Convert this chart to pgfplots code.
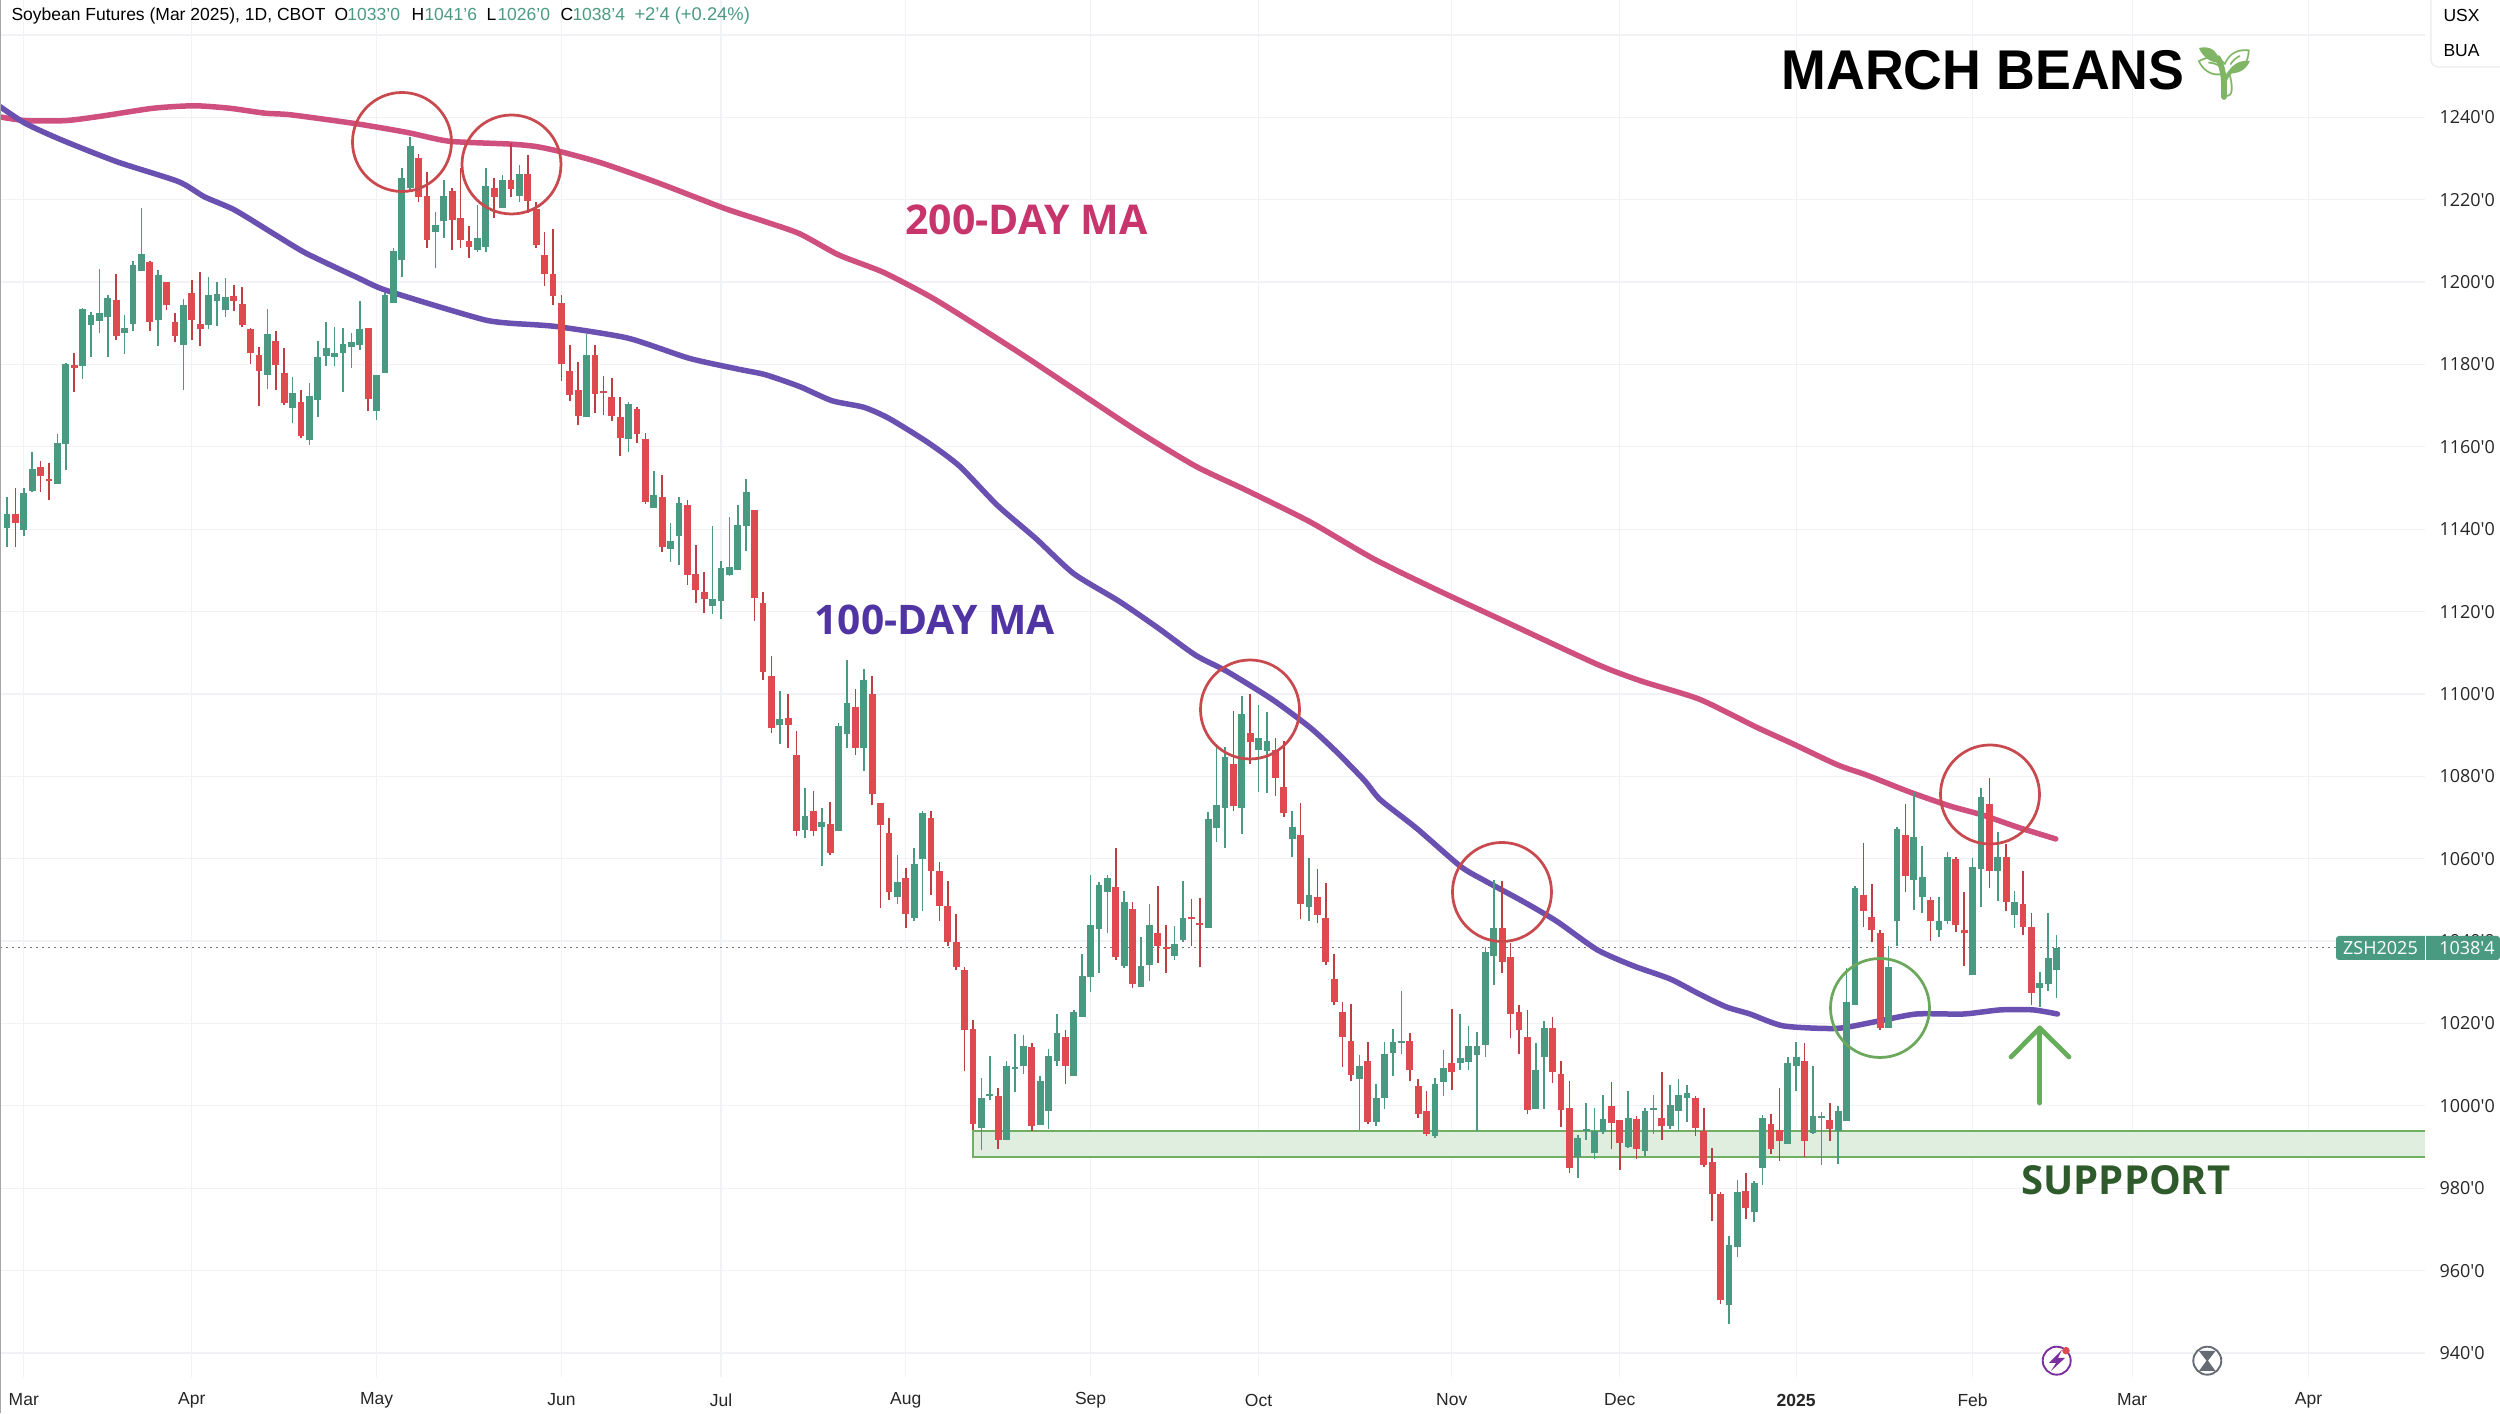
\documentclass[border=0pt]{standalone}
\usepackage{pgfplots}
\usepackage{pgfplotstable}
\usepackage{fontspec}
\pgfplotsset{compat=1.18}
\setmainfont{Liberation Sans}
\newfontfamily\mafont{Open Sans}
\newfontfamily\emojifont{Noto Emoji}
\definecolor{cgreen}{HTML}{4A9A82}
\definecolor{cred}{HTML}{DE4A50}
\definecolor{ma200}{HTML}{CF4F7E}
\definecolor{ma100}{HTML}{6A50B0}
\definecolor{t200}{HTML}{C8356C}
\definecolor{t100}{HTML}{5034A4}
\definecolor{gridc}{HTML}{F1F2F5}
\definecolor{circr}{HTML}{C84A4E}
\definecolor{circg}{HTML}{6BA85C}
\definecolor{arrowg}{HTML}{66AD5B}
\definecolor{suppfill}{HTML}{E0EEDF}
\definecolor{suppline}{HTML}{6FAE63}
\definecolor{supptxt}{HTML}{2F5A2B}
\definecolor{sprout}{HTML}{7FB565}
\definecolor{iconp}{HTML}{7B2F9E}
\definecolor{icong}{HTML}{666A75}
\pgfplotstableread{
x o h l c
0 1140.4 1147.9 1135.6 1143.7
1 1143.7 1150 1135.6 1141.6
2 1139.9 1150 1138.3 1148.7
3 1149.2 1158.8 1149 1154.5
4 1155 1156.5 1149 1152.9
5 1152.1 1156 1147 1151.6
6 1151 1163 1151 1160.9
7 1160.6 1180.4 1154.4 1180.1
8 1179.9 1182.7 1173.2 1179.1
9 1179.5 1193.8 1176.5 1193.4
10 1189.6 1192.8 1181.9 1192
11 1190.6 1203.1 1187.6 1192.6
12 1191.4 1196.9 1181.7 1196.2
13 1195.7 1201.9 1186 1187
14 1187.6 1192 1182.6 1188.8
15 1189.8 1205 1188 1204.2
16 1202.8 1217.9 1202.8 1206.8
17 1204.9 1205 1188 1190.4
18 1190.8 1203 1184.5 1201.6
19 1200 1200 1193.2 1194.4
20 1190.3 1192.4 1185.5 1187
21 1184.7 1196 1173.7 1194.4
22 1197.3 1200.5 1186 1190.8
23 1189.8 1202.5 1184.5 1188.5
24 1189.6 1201.3 1188.5 1196.9
25 1195.3 1200.1 1189.4 1197.1
26 1193.2 1200.9 1191.6 1196.3
27 1196.6 1199.3 1193 1195.4
28 1194.7 1198.9 1189 1189.6
29 1188.6 1188.8 1180.1 1182.7
30 1182.2 1184.3 1169.8 1178.3
31 1177.5 1193.4 1174 1187.4
32 1185.8 1188.2 1173.8 1179.9
33 1177.9 1183.9 1170.2 1170.6
34 1169.4 1177 1165.7 1173
35 1171 1173.8 1162.1 1162.7
36 1161.7 1175.6 1160.5 1172.4
37 1171.4 1185.6 1167.3 1181.7
38 1182 1190.4 1179.5 1183.9
39 1181.7 1189.2 1179.5 1182.7
40 1182.7 1188.8 1173.4 1184.9
41 1184.2 1187.6 1179.1 1185.5
42 1184.7 1195.3 1183.5 1188.6
43 1188.9 1188.9 1168.6 1171.6
44 1168.8 1177.5 1166.5 1177.5
45 1177.9 1197.3 1177.9 1196.9
46 1194.9 1208.2 1194.9 1207.6
47 1205.4 1227.6 1201.3 1225.2
48 1222.8 1235.1 1222.4 1233.1
49 1230 1231.1 1219.5 1220.7
50 1220.9 1226.6 1208.2 1210.2
51 1212.2 1217.1 1203.3 1213.9
52 1214.9 1224.8 1210.6 1220.9
53 1222 1222.8 1207.8 1215.1
54 1215.6 1227.6 1208.2 1210.2
55 1210 1213.5 1205.8 1208.6
56 1207.8 1218.7 1207.4 1210.6
57 1208.6 1227.6 1207.2 1223.2
58 1222.9 1225.2 1215.5 1220.7
59 1217.9 1226 1217.9 1224.8
60 1224.8 1233.7 1220.7 1222.5
61 1220.9 1228.4 1219.4 1226.2
62 1226.2 1230.9 1216.7 1219.8
63 1217.7 1219.5 1208.2 1209
64 1206.5 1212.2 1199.1 1202
65 1202 1212.8 1194.4 1196.7
66 1194.8 1196.9 1176 1180.2
67 1178.4 1184.6 1171.1 1172.5
68 1173.9 1180.7 1165.2 1167.4
69 1167.2 1187.3 1167.2 1182.2
70 1182.2 1184.6 1168.3 1172.9
71 1173.4 1177.1 1167.8 1173.1
72 1172 1176.7 1166.2 1167.4
73 1167.2 1172 1157.8 1162.2
74 1161.8 1170.8 1158.7 1170.3
75 1169.2 1169.7 1161 1163
76 1162 1163.4 1146 1146.7
77 1145.2 1154.2 1145.2 1148.3
78 1147.7 1153.2 1134.4 1135.6
79 1135.3 1141.6 1132 1137.2
80 1138.3 1147.8 1131.4 1146.4
81 1145.8 1147.2 1126.5 1129
82 1129.2 1136.2 1122.1 1125.3
83 1124.8 1129.5 1119.7 1123
84 1121.4 1140.7 1119.5 1123
85 1122.5 1132.2 1118.1 1130.7
86 1128.8 1142.9 1128.6 1130.8
87 1130.1 1145.8 1130.1 1140.9
88 1140.7 1152.3 1134.6 1149
89 1144.6 1144.6 1117.8 1123.2
90 1122 1124.8 1103.5 1105.4
91 1104.3 1109.3 1090.5 1091.8
92 1092.4 1100.6 1087.9 1093.9
93 1094.1 1100 1087 1092.5
94 1085.1 1091.1 1065.4 1066.7
95 1067 1077.1 1065.1 1070.4
96 1071.6 1076.5 1065.4 1066.7
97 1067.8 1072.4 1058.2 1068.9
98 1068.4 1073.8 1061 1061.4
99 1066.7 1093 1066.7 1092.1
100 1090.4 1108.2 1086.8 1097.9
101 1096.9 1101.3 1085.1 1087
102 1087 1106 1081.4 1103.4
103 1100 1104.3 1073 1075.8
104 1073.6 1073.6 1048 1068.2
105 1066.3 1070 1050 1051.8
106 1050.8 1060.9 1049 1054.4
107 1055.3 1057.8 1043.2 1046.7
108 1045.7 1062.6 1045 1058.7
109 1059.9 1071.7 1047.4 1071
110 1069.9 1071.7 1051.3 1057.1
111 1056.9 1059.2 1045 1048.5
112 1048.5 1054.6 1038.8 1039.7
113 1039.9 1046.7 1032.9 1033.6
114 1033.1 1033.8 1008.4 1018.5
115 1018.6 1020.9 994.1 995.7
116 994.6 1006.7 989.2 1001.9
117 1002.4 1012 1001.5 1002.7
118 1002.5 1004.4 989.5 991.8
119 991.8 1010.9 991.8 1009.7
120 1008.9 1017.4 1003.4 1009.3
121 1009.7 1017.2 1007.8 1014.6
122 1014.4 1015.2 993.9 995
123 995.3 1007.2 995.3 1006
124 998.8 1013.9 994.4 1012.1
125 1010.9 1022.3 1009.7 1017.7
126 1016.6 1018.3 1005.3 1009.7
127 1007.2 1023.2 1007.2 1022.8
128 1021.6 1036.9 1021.6 1031.6
129 1031.3 1056 1027.6 1043.8
130 1042.9 1054.3 1032.3 1053.6
131 1052 1056.1 1042 1055.4
132 1053.2 1062.5 1035.5 1036.2
133 1033.9 1052.2 1033.5 1049.4
134 1047.9 1049.4 1028.5 1029.6
135 1028.8 1040.9 1028.8 1033.9
136 1034.1 1049 1030.2 1043.9
137 1042 1053.4 1034.6 1038.8
138 1038.5 1044 1032.2 1038.1
139 1036.4 1043.7 1035.5 1039.2
140 1040.3 1054.6 1039.9 1045.7
141 1045.9 1050.1 1038.9 1045.3
142 1044 1050.4 1033.6 1043.8
143 1043.1 1071.3 1043.1 1069.6
144 1067.4 1087.5 1064.1 1073.1
145 1072.2 1087.1 1062.5 1084.6
146 1082.9 1095.9 1071.7 1072.7
147 1072.2 1099.6 1066 1095.2
148 1090.5 1100.1 1082.9 1088.3
149 1086.4 1097.3 1076.2 1089.2
150 1086.1 1095.6 1075.9 1088.7
151 1086.4 1089.2 1075.3 1079.6
152 1077.5 1088.7 1070.2 1071.1
153 1064.8 1071.6 1060.4 1067.6
154 1065.7 1073.6 1045.3 1049
155 1048.3 1060.1 1045 1051.3
156 1050.7 1057.5 1044.3 1046.4
157 1045.7 1054.1 1034.1 1034.9
158 1030.9 1036.9 1024.4 1025.1
159 1022.8 1025.1 1009.5 1016.6
160 1015.7 1024.8 1006 1007.6
161 1006.4 1012.3 994.1 1009.7
162 1010.9 1015.5 995.5 996
163 996.2 1005.3 995 1001.8
164 1001.8 1015.5 999.3 1012.5
165 1012.9 1018.6 1007.3 1015.5
166 1015.3 1027.9 1012.7 1015.5
167 1015.8 1017.7 1006 1008.8
168 1004.9 1006.6 997.1 998
169 998.8 1003.6 992.8 993.2
170 992.6 1006.8 992.2 1005.3
171 1005.8 1013.6 1002.3 1009.2
172 1010.3 1023.4 1003.9 1008.1
173 1010.3 1022.3 1008.8 1011.5
174 1010.7 1019.4 1008.8 1014.6
175 1012.4 1017.9 993.8 1014.6
176 1014.7 1038.6 1011.8 1037.3
177 1036.3 1054.8 1029.4 1043.3
178 1043.3 1054.5 1032.3 1035
179 1036.1 1039.6 1016.4 1022.3
180 1022.7 1024.4 1012.7 1018.4
181 1016.6 1023.3 998.1 999
182 999.3 1015.3 999.3 1008.6
183 1011.8 1020.5 999.3 1019
184 1019 1021.6 1005.5 1008.2
185 1007.7 1010.8 994.9 999
186 999.5 1006 983.8 985
187 987.7 992.9 982.5 992.1
188 994 1000.6 991.7 994.3
189 988.6 999.5 987 993.8
190 993.6 1002.7 993.2 996.8
191 1000 1005.8 989.5 995.8
192 996.5 996.5 984.5 990.9
193 989.9 1003.6 989.7 997.1
194 996.8 997.5 987 989.6
195 989.1 999.5 987.8 998.8
196 999 1002.7 993.2 999.4
197 997.1 1008.1 991.6 995.2
198 995.2 1005.1 994.3 1000.1
199 998.8 1006.5 993.8 1002.7
200 1001.8 1005.1 996.2 1003.2
201 1001.9 1002.3 992.8 994.7
202 993.8 999.5 985.1 985.7
203 986.3 989.7 972 978.6
204 978.6 979.2 952 952.9
205 951.7 968.3 947 966.3
206 965.7 981.9 963.3 979.1
207 979.3 983.8 972.6 975.2
208 974.3 981.7 971.8 981.2
209 985 997.8 980.8 997.1
210 995.6 998 988.4 989.5
211 994.1 1004.3 986.7 991.5
212 990.8 1011.8 990.8 1010.4
213 1009.7 1015.6 1003.6 1011.8
214 1010.8 1015.3 987.7 991.5
215 993.5 1009.7 993.2 997.5
216 997.1 998.4 985.6 997.3
217 996.5 1000.7 991.5 994.3
218 993.8 999.9 985.8 998.8
219 996.4 1033.4 996.4 1025.2
220 1024.5 1053.4 1024.5 1052.8
221 1051.1 1063.9 1043.4 1047.3
222 1045.8 1053.9 1039.9 1042.6
223 1041.9 1042.6 1018.5 1018.9
224 1018.9 1038.7 1018.9 1033.8
225 1044.8 1067.8 1038.9 1067.2
226 1065.8 1073.2 1051.8 1055.9
227 1054.9 1076.3 1047.6 1065.3
228 1050.8 1063 1046.9 1055.5
229 1050 1050.8 1040.1 1044.8
230 1042.6 1050.7 1041 1044.8
231 1044.8 1061.6 1044.2 1060.4
232 1059.9 1060.4 1042.1 1043.8
233 1042.6 1051.8 1034 1041.9
234 1031.8 1060.1 1031.8 1058.1
235 1057.5 1077.1 1048.2 1074.9
236 1073.3 1079.7 1053 1056.9
237 1057.1 1066.4 1049.8 1060.4
238 1060.4 1063.6 1047.4 1049.4
239 1046.4 1052.2 1043.1 1049.4
240 1049 1056.9 1041.5 1043.4
241 1043.4 1046.8 1024.5 1027.5
242 1028.5 1032.4 1024.1 1029.8
243 1029.6 1046.8 1028 1035.9
244 1032.9 1041.5 1026.1 1038.3
}\candles
\pgfplotstableread{
x v
-0.83 1240.1
2.2 1239.2
7 1239.2
11.3 1240.3
17.4 1242.2
22.3 1242.8
26.5 1242.2
30.7 1241
33.8 1240.6
41.7 1238.4
47.7 1236.3
52.6 1234.2
59.9 1233.5
63 1232.9
66 1231.6
70.8 1228.9
77.5 1224.1
85.4 1217.9
90.2 1214.7
94.4 1211.7
99 1206.6
104.3 1202.4
109.6 1196.8
113.4 1192.1
121 1182.2
128.6 1171.9
134.6 1163.8
141.5 1155.3
147.6 1149.4
155.1 1141.8
162.7 1132.8
170.3 1125.2
177.9 1118
189.3 1107.2
194.6 1103.1
201.5 1098.7
208.3 1091.9
212.6 1087.9
217.9 1082.8
221.4 1080.3
226.5 1076.2
231.3 1072.8
235.2 1070.6
239.3 1067.7
243.9 1064.8
}\mafast
\pgfplotstableread{
x v
-0.83 1242.6
2.2 1238.5
6.5 1234.5
13.1 1229.2
20.4 1224.4
23.5 1220.7
27.1 1217.5
32 1211.4
35.6 1207
41.7 1201.1
44.7 1198.3
50.8 1194.4
56.9 1190.8
59.9 1190
65.4 1189.2
73.9 1186.4
81.2 1181.5
87.2 1178.8
90.3 1177.5
94.4 1174.6
98.2 1171.2
102 1169.6
105 1166.9
109.6 1161.1
113.4 1155.3
117.9 1145.8
122.5 1137.7
127 1129.2
132.4 1122.5
136.9 1116.2
141.5 1109.4
145.3 1105.4
150.6 1098.7
155.1 1091.9
158.2 1086.1
161.6 1079
163.5 1074.3
167.8 1067.4
173 1058.2
175.8 1054.8
180.5 1049.6
184.5 1044.8
189.3 1037.9
193.6 1034
198 1030.8
201.6 1027
204.7 1024
207.5 1022.3
211.5 1019.4
217.8 1018.8
222.6 1020.5
227.3 1022.3
232.9 1022.3
237.3 1023.3
241.2 1023.3
244.1 1022.3
}\maslow
\begin{document}
\begin{tikzpicture}
\useasboundingbox (0,0) rectangle (1000pt,565.2pt);
\begin{axis}[
  at={(0pt,14.4pt)}, anchor=south west, scale only axis,
  width=970pt, height=550.8pt,
  xmin=-0.833, xmax=287.86, ymin=934.17, ymax=1268.48,
  axis line style={draw=none}, tick style={draw=none},
  major tick length=0pt,
  grid=major, grid style={gridc, line width=0.5pt},
  xtick={2,22,44,66,85,107,129,149,172,192,213,234,253,274},
  xticklabels={Mar,Apr,May,Jun,Jul,Aug,Sep,Oct,Nov,Dec,\textbf{2025},Feb,Mar,Apr},
  ytick={940,960,980,1000,1020,1040,1060,1080,1100,1120,1140,1160,1180,1200,1220,1240,1260},
  yticklabels={940'0,960'0,980'0,1000'0,1020'0,1040'0,1060'0,1080'0,1100'0,1120'0,1140'0,1160'0,1180'0,1200'0,1220'0,1240'0,{}},
  yticklabel pos=right,
  yticklabel style={font=\fontsize{7.2}{8}\selectfont\mafont, anchor=west, inner sep=0pt, xshift=5.6pt, text=black!85},
  xticklabel style={font=\fontsize{7}{8}\selectfont, anchor=center, inner sep=0pt, yshift=-9.2pt, text=black!85},
  clip=false,
  axis on top=false,
]
% support zone: filled, with lines on three sides, open towards the price scale
\addplot[draw=none, fill=suppfill, forget plot]
  coordinates {(115,987.6)(287.86,987.6)(287.86,993.9)(115,993.9)} -- cycle;
\addplot[draw=suppline, line width=0.55pt, forget plot]
  coordinates {(287.86,987.6)(115,987.6)(115,993.9)(287.86,993.9)};
% last price line
\addplot[draw=black!55, line width=0.4pt, dash pattern=on 0.8pt off 1.6pt, forget plot]
  coordinates {(-0.83,1038.5)(277.3,1038.5)};
% moving averages
\addplot[ma200, line width=2.2pt, line cap=round, line join=round, smooth, tension=0.4, forget plot] table[x=x,y=v]{\mafast};
\addplot[ma100, line width=2.2pt, line cap=round, line join=round, smooth, tension=0.4, forget plot] table[x=x,y=v]{\maslow};
% wicks green
\addplot[draw=none, mark=none, forget plot,
  restrict expr to domain={\thisrow{c}-\thisrow{o}}{0:1000},
  error bars/.cd, y dir=plus, y explicit, error mark=none,
  error bar style={draw=cgreen, line width=0.65pt}]
  table[x=x, y=l, y error expr=\thisrow{h}-\thisrow{l}]{\candles};
% wicks red
\addplot[draw=none, mark=none, forget plot,
  restrict expr to domain={\thisrow{c}-\thisrow{o}}{-1000:-0.0001},
  error bars/.cd, y dir=plus, y explicit, error mark=none,
  error bar style={draw=cred!85!black, line width=0.65pt}]
  table[x=x, y=l, y error expr=\thisrow{h}-\thisrow{l}]{\candles};
% bodies green
\addplot[draw=none, mark=none, forget plot,
  restrict expr to domain={\thisrow{c}-\thisrow{o}}{0:1000},
  error bars/.cd, y dir=plus, y explicit, error mark=none,
  error bar style={draw=cgreen, line width=2.7pt}]
  table[x=x, y=o, y error expr={max(\thisrow{c}-\thisrow{o},0.5)}]{\candles};
% bodies red
\addplot[draw=none, mark=none, forget plot,
  restrict expr to domain={\thisrow{c}-\thisrow{o}}{-1000:-0.0001},
  error bars/.cd, y dir=plus, y explicit, error mark=none,
  error bar style={draw=cred, line width=2.7pt}]
  table[x=x, y=c, y error expr={max(\thisrow{o}-\thisrow{c},0.5)}]{\candles};
\end{axis}
\begin{scope}[x=0.4pt,y=-0.4pt,shift={(0pt,565.2pt)}]
  % left rule
  \draw[black!35, line width=0.4pt] (1,0) -- (1,1413);
  % circles
  \foreach \cx/\cy in {402/142,511.5/164.5,1250/709.5,1502/892,1990/794.5}
    \draw[circr, line width=1.1pt] (\cx,\cy) circle[radius=19.8pt];
  \draw[circg, line width=1.1pt] (1880,1008) circle[radius=19.8pt];
  % arrow
  \draw[arrowg, line width=1.9pt, line cap=round, line join=round] (2039.7,1103) -- (2039.7,1028);
  \draw[arrowg, line width=1.9pt, line cap=round, line join=round] (2011,1057) -- (2039.7,1028) -- (2069,1057);
  % big text
  \node[anchor=west, inner sep=0pt, xscale=0.96, font=\fontsize{22.4}{24}\selectfont\bfseries] at (1781,70) {MARCH BEANS};
  \node[anchor=center, inner sep=0pt, text=sprout, font=\fontsize{18.7}{22}\selectfont\emojifont] at (2224,73.5) {🌱};
  \fill[sprout] (2199,48) .. controls (2208,46) and (2217,48) .. (2220,63) .. controls (2212,63) and (2203,58) .. cycle;
  \fill[sprout] (2250,61) .. controls (2243,60) and (2233,62) .. (2228,73) .. controls (2236,74) and (2245,72) .. cycle;
  \draw[sprout, line width=2.3pt, line cap=round] (2224,97) .. controls (2224,85) and (2225,72) .. (2218,58);
  \draw[sprout, line width=1.6pt, line cap=round] (2224,84) .. controls (2225,78) and (2228,74) .. (2234,68);
  \node[anchor=west, inner sep=0pt, text=t200, font=\fontsize{16.4}{18}\selectfont\mafont\bfseries] at (905,220) {200-DAY MA};
  \node[anchor=west, inner sep=0pt, text=t100, font=\fontsize{16.3}{18}\selectfont\mafont\bfseries] at (814,620) {100-DAY MA};
  \node[anchor=west, inner sep=0pt, text=supptxt, font=\fontsize{16}{18}\selectfont\mafont\bfseries] at (2021,1180) {SUPPPORT};
  % header
  \begin{scope}[every node/.style={anchor=base west, inner sep=0pt, font=\fontsize{7}{8}\selectfont}]
    \node at (11,21) {Soybean Futures (Mar 2025), 1D, CBOT};
    \node at (334,21) {O}; \node[text=cgreen] at (347,21) {1033'0};
    \node at (411,21) {H}; \node[text=cgreen] at (424,21) {1041'6};
    \node at (486,21) {L}; \node[text=cgreen] at (497,21) {1026'0};
    \node at (560,21) {C}; \node[text=cgreen] at (572,21) {1038'4};
    \node[text=cgreen, font=\fontsize{7.35}{8}\selectfont] at (634,21) {+2'4 (+0.24\%)};
  \end{scope}
  % currency box
  \fill[white] (2430,-4) rectangle (2504,67);
  \draw[black!8, line width=0.5pt, rounded corners=3pt] (2431,-5) -- (2431,67) -- (2505,67);
  \node[anchor=west, inner sep=0pt, font=\fontsize{7}{8}\selectfont] at (2443,15) {USX};
  \node[anchor=west, inner sep=0pt, font=\fontsize{7}{8}\selectfont] at (2443,51) {BUA};
  % last price tag
  \fill[cgreen, rounded corners=1.2pt] (2336,936) rectangle (2500,960);
  \draw[white, line width=0.35pt] (2425.7,936) -- (2425.7,960);
  \node[anchor=center, inner sep=0pt, text=white, font=\fontsize{7.2}{8}\selectfont\mafont] at (2380.5,948) {ZSH2025};
  \node[anchor=center, inner sep=0pt, text=white, font=\fontsize{7.2}{8}\selectfont\mafont] at (2467,948) {1038'4};
  % icons
  \fill[white] (2056.7,1360.7) circle[radius=15];
  \draw[iconp, line width=0.75pt] (2056.7,1360.7) circle[radius=5.6pt];
  \fill[iconp] (2062,1350) -- (2049,1363) -- (2056,1363) -- (2051,1371) -- (2065,1358) -- (2058,1358) -- cycle;
  \fill[cred] (2066,1350.7) circle[radius=1.5pt];
  \fill[white] (2207.3,1360.7) circle[radius=15];
  \draw[icong, line width=0.75pt] (2207.3,1360.7) circle[radius=5.6pt];
  \fill[icong] (2199,1351) -- (2215.5,1351) -- (2208,1360.7) -- (2215.5,1371) -- (2199,1371) -- (2206.5,1360.7) -- cycle;
\end{scope}
\end{tikzpicture}
\end{document}
